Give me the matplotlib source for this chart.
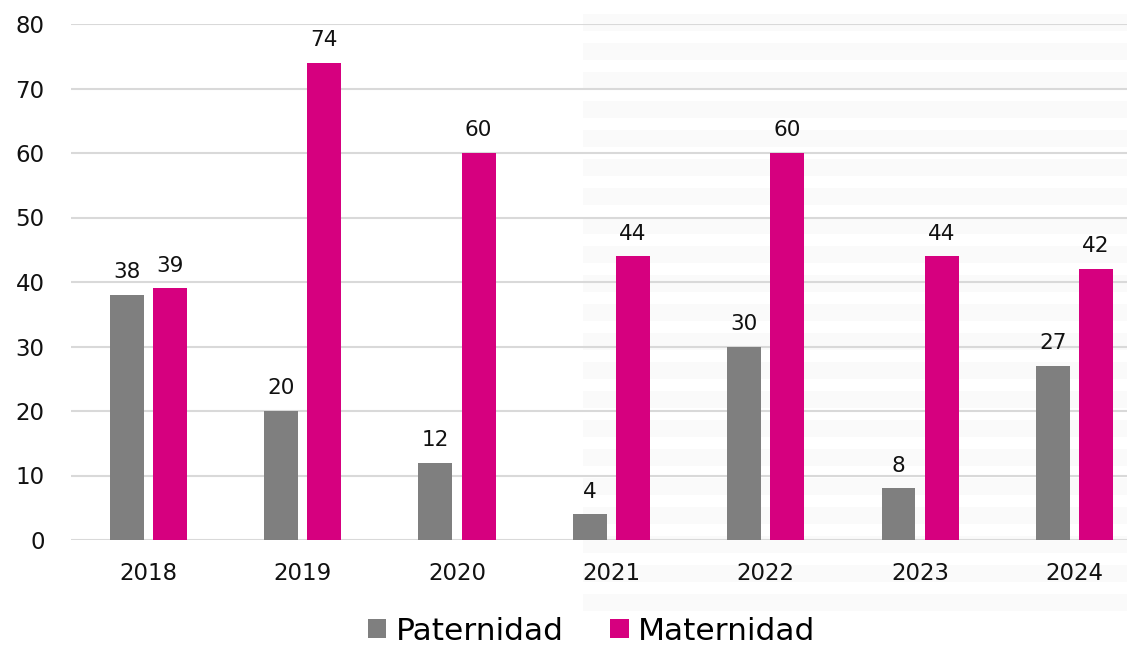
import numpy as np
import matplotlib.pyplot as plt
from matplotlib.patches import Rectangle

years = ["2018", "2019", "2020", "2021", "2022", "2023", "2024"]
paternidad = [38, 20, 12, 4, 30, 8, 27]
maternidad = [39, 74, 60, 44, 60, 44, 42]

gray = "#7f7f7f"
pink = "#d6007f"

plt.rcParams["font.family"] = ["DejaVu Sans"]

W, H = 1127, 646
fig = plt.figure(figsize=(W / 100, H / 100), dpi=100)

# faint stripes in the background on the right half
for k in range(21):
    y0 = 1 - (14 + k * 29) / H
    fig.patches.append(Rectangle((583 / W, y0 - 17 / H), 1 - 583 / W, 17 / H,
                                 transform=fig.transFigure, color="#fafafa",
                                 zorder=-5, lw=0))

ax = fig.add_axes([71 / W, (H - 540) / H, 1 - 71 / W, (540 - 24) / H])
ax.patch.set_alpha(0)

x = np.arange(len(years))
w = 0.22
off = 0.14
ax.bar(x - off, paternidad, w, color=gray, label="Paternidad", zorder=3)
ax.bar(x + off, maternidad, w, color=pink, label="Maternidad", zorder=3)

for xi, p, m in zip(x, paternidad, maternidad):
    ax.annotate(str(p), (xi - off, p), xytext=(0, 12), textcoords="offset points",
                ha="center", va="baseline", fontsize=15.5, color="#111111")
    ax.annotate(str(m), (xi + off, m), xytext=(0, 12), textcoords="offset points",
                ha="center", va="baseline", fontsize=15.5, color="#111111")

ax.set_ylim(0, 80)
ax.set_xlim(-0.5, 6.34)
ax.set_yticks(range(0, 81, 10))
ax.set_xticks(x)
ax.set_xticklabels(years)
ax.yaxis.grid(True, color="#d9d9d9", lw=1.5, zorder=0)
ax.tick_params(axis="both", length=0, labelsize=16.5, colors="#111111")
ax.tick_params(axis="y", pad=19)
ax.tick_params(axis="x", pad=16)
for s in ax.spines.values():
    s.set_visible(False)

fig.legend(loc="center", bbox_to_anchor=(0.525, 1 - 631 / H), ncol=2, frameon=False,
           fontsize=22.5, handlelength=0.58, handleheight=0.58, handletextpad=0.3,
           columnspacing=1.5, borderpad=0)

fig.savefig("out.png", dpi=100)
